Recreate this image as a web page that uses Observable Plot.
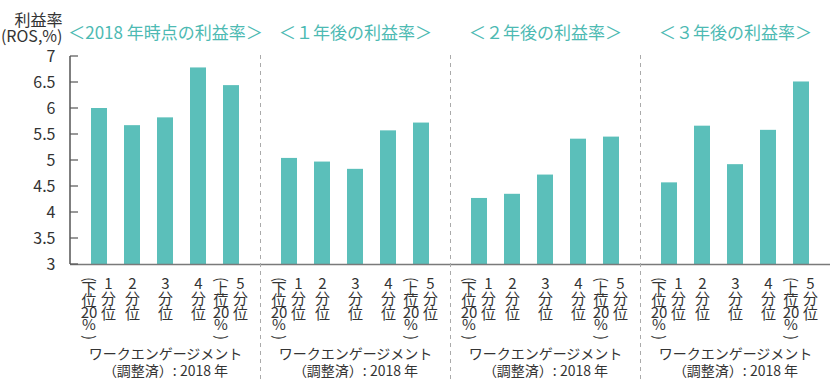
<!DOCTYPE html>
<html><head><meta charset="utf-8">
<script src="https://cdn.jsdelivr.net/npm/d3@7"></script>
<script src="https://cdn.jsdelivr.net/npm/@observablehq/plot@0.6"></script>
<style>body{margin:0;background:#fff} #chart{width:840px;height:390px}</style>
</head><body><div id="chart"></div>
<script>
const periods = ["2018", "1年後", "2年後", "3年後"];
const titles = ["＜2018 年時点の利益率＞", "＜１年後の利益率＞", "＜２年後の利益率＞", "＜３年後の利益率＞"];
const quintiles = ["1", "2", "3", "4", "5"];
const quintileLabels = ["1\n分\n位", "2\n分\n位", "3\n分\n位", "4\n分\n位", "5\n分\n位"];
const quintileNotes = ["下\n位\n20\n%", "", "", "", "上\n位\n20\n%"];
const ros2018 = [6.00, 5.67, 5.82, 6.78, 6.44];
const ros1y = [5.04, 4.97, 4.83, 5.57, 5.72];
const ros2y = [4.27, 4.35, 4.72, 5.41, 5.45];
const ros3y = [4.57, 5.66, 4.92, 5.58, 6.51];
const yTicks = [3, 3.5, 4, 4.5, 5, 5.5, 6, 6.5, 7];
const xAxisTitle = "ワークエンゲージメント\n（調整済）: 2018 年";
const yAxisTitle = "利益率\n(ROS,%)";

const series = [ros2018, ros1y, ros2y, ros3y];
const baseline = yTicks[0];
const rows = periods.flatMap((p, i) => quintiles.map((q, j) => ({
  period: p, q, value: series[i][j], label: quintileLabels[j], note: quintileNotes[j]
})));
const noted = rows.filter(d => d.note);
const titleRows = periods.map((p, i) => ({period: p, title: titles[i]}));

const teal = "#5bbfba";
const ink = "#333";
const font = "'Noto Sans CJK JP', 'Noto Sans', sans-serif";

const chart = Plot.plot({
  width: 840, height: 390,
  marginTop: 56, marginBottom: 126, marginLeft: 70, marginRight: 10,
  style: {fontFamily: font, background: "#fff", color: ink, overflow: "visible"},
  fx: {domain: periods, padding: 0, axis: null},
  x: {domain: quintiles, paddingInner: 0.53, paddingOuter: 0.56, axis: null},
  y: {domain: [yTicks[0], yTicks[yTicks.length - 1]], axis: null},
  marks: [
    Plot.barY(rows, {fx: "period", x: "q", y1: () => baseline, y2: "value", fill: teal}),
    Plot.ruleY([baseline], {stroke: "#7a7a7a", strokeWidth: 1.6}),
    Plot.axisY({ticks: yTicks, tickSize: 0, tickPadding: 15, tickFormat: d => String(d), fontSize: 16, fill: ink, label: null}),
    Plot.text([periods[0]], {fx: d => d, text: () => yAxisTitle, frameAnchor: "top-left", textAnchor: "end", lineAnchor: "bottom", dx: -8, dy: -15, fontSize: 16, lineHeight: 0.95, fill: ink}),
    Plot.text(titleRows, {fx: "period", text: "title", frameAnchor: "top", lineAnchor: "middle", dy: -23, fontSize: 17, fill: "#4dbab3"}),
    Plot.text(rows.filter(d => !d.note), {fx: "period", x: "q", text: "label", frameAnchor: "bottom", lineAnchor: "top", dy: 14, fontSize: 15, lineHeight: 1.0, fill: ink}),
    Plot.text(noted, {fx: "period", x: "q", text: "label", frameAnchor: "bottom", lineAnchor: "top", dy: 14, dx: 9, fontSize: 15, lineHeight: 1.0, fill: ink}),
    Plot.text(noted, {fx: "period", x: "q", text: () => "(", rotate: 90, frameAnchor: "bottom", lineAnchor: "middle", dy: 15, dx: -10.5, fontSize: 15, fill: ink}),
    Plot.text(noted, {fx: "period", x: "q", text: "note", frameAnchor: "bottom", lineAnchor: "top", dy: 21, dx: -10.5, fontSize: 15, lineHeight: 0.8, fill: ink}),
    Plot.text(noted, {fx: "period", x: "q", text: () => ")", rotate: 90, frameAnchor: "bottom", lineAnchor: "middle", dy: 73, dx: -10.5, fontSize: 15, fill: ink}),
    Plot.text(periods, {fx: d => d, text: () => xAxisTitle, frameAnchor: "bottom", lineAnchor: "top", dy: 82, fontSize: 14, lineHeight: 1.25, fill: ink})
  ]
});
document.getElementById("chart").append(chart);

// axis line, inward ticks and dashed panel separators, placed with Plot's own scales
const svg = d3.select(chart);
const fx = chart.scale("fx"), y = chart.scale("y");
const x0 = fx.apply(periods[0]);
const yTop = y.apply(yTicks[yTicks.length - 1]), yBot = y.apply(baseline);
const g = svg.append("g");
g.append("line").attr("x1", x0).attr("x2", x0).attr("y1", yTop).attr("y2", yBot)
  .attr("stroke", "#555").attr("stroke-width", 1.5);
yTicks.forEach(t => {
  g.append("line").attr("x1", x0).attr("x2", x0 + 8).attr("y1", y.apply(t)).attr("y2", y.apply(t))
    .attr("stroke", "#555").attr("stroke-width", 1.2);
});
periods.slice(1).forEach(p => {
  const xs = Math.round(fx.apply(p)) + 0.5;
  g.append("line").attr("x1", xs).attr("x2", xs).attr("y1", yTop - 1).attr("y2", yBot + 117)
    .attr("stroke", "#aaa").attr("stroke-width", 1).attr("stroke-dasharray", "4,4");
});
</script>
</body></html>
